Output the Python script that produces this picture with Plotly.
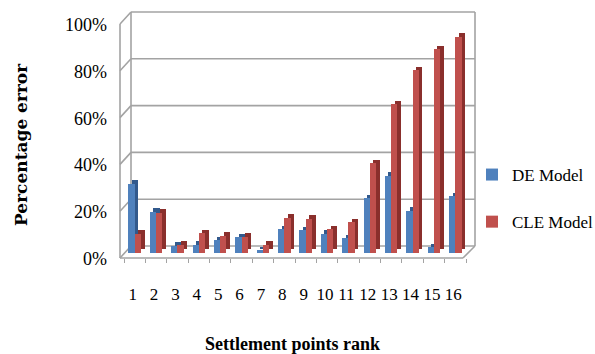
import plotly.graph_objects as go

# Settlement point ranks and percentage errors of the two models
ranks = [str(i) for i in range(1, 17)]
de_model = [29.5, 17.5, 3.0, 3.3, 5.4, 6.6, 1.0, 10.0, 9.5, 8.0, 6.1, 23.2, 32.8, 18.0, 2.3, 24.2]
cle_model = [8.0, 17.0, 3.3, 8.3, 7.3, 6.8, 3.3, 15.0, 14.5, 10.0, 13.0, 38.2, 63.5, 78.0, 87.0, 92.3]
y_ticks = [0, 20, 40, 60, 80, 100]
y_ticktext = ["0%", "20%", "40%", "60%", "80%", "100%"]

# plot area in pixels
W, H = 595, 354
PL, PR, PT, PB = 124, 466, 12, 258
YMIN, YMAX = -2.265, 102.86

def px(x):
    return (x - PL) / (PR - PL)

def py(y):
    return (PB - y) / (PB - PT)

def ypix(v, shift=0.0):
    return PB - (v - YMIN) / (YMAX - YMIN) * (PB - PT) + shift

# pseudo-3D bar geometry (category units / value units)
FACE = 0.295
DEPTH_X = 0.164
DEPTH_Y = 1.5

blue, blue_side = "#4f81bd", "#32598c"
red, red_side = "#c0504d", "#8a2f2c"

fig = go.Figure()
fig.add_trace(go.Bar(x=ranks, y=de_model, base=DEPTH_Y, width=FACE, offset=-FACE + DEPTH_X,
                     marker=dict(color=blue_side, line=dict(width=0)), showlegend=False,
                     hoverinfo="skip"))
fig.add_trace(go.Bar(x=ranks, y=de_model, width=FACE, offset=-FACE, name="DE Model",
                     legendgroup="de", marker=dict(color=blue, line=dict(width=0))))
fig.add_trace(go.Bar(x=ranks, y=cle_model, base=DEPTH_Y, width=FACE, offset=DEPTH_X,
                     marker=dict(color=red_side, line=dict(width=0)), showlegend=False,
                     hoverinfo="skip"))
fig.add_trace(go.Bar(x=ranks, y=cle_model, width=FACE, offset=0, name="CLE Model",
                     legendgroup="cle", marker=dict(color=red, line=dict(width=0))))

# chart frame: back wall, left wall and floor
GRAY = "#a3a3a3"
BACK_L, BACK_R, FRONT_L, FLOOR_R = 131, 475, 120, 463
back_dy = -6.7   # back wall sits above the bar baseline
front_dy = 5.3   # front plane sits below it
shapes = []

def seg(x0, y0, x1, y1):
    shapes.append(dict(type="line", xref="paper", yref="paper",
                       x0=px(x0), y0=py(y0), x1=px(x1), y1=py(y1),
                       line=dict(color=GRAY, width=1.6), layer="below"))

for v in y_ticks:
    yb = ypix(v, back_dy)
    yf = ypix(v, front_dy)
    seg(BACK_L, yb, BACK_R, yb)
    seg(FRONT_L, yf, BACK_L, yb)
seg(BACK_L, ypix(0, back_dy), BACK_L, ypix(100, back_dy))
seg(BACK_R, ypix(0, back_dy), BACK_R, ypix(100, back_dy))
seg(FRONT_L, ypix(0, front_dy), FRONT_L, ypix(100, front_dy))
seg(FRONT_L, ypix(0, front_dy), FLOOR_R, ypix(0, front_dy))
seg(FLOOR_R, ypix(0, front_dy), BACK_R, ypix(0, back_dy))

FONT = "Liberation Serif, Times New Roman, serif"
WIDE_SERIF = "DejaVu Serif, serif"
fig.update_layout(
    width=W, height=H,
    margin=dict(l=PL, r=W - PR, t=PT, b=H - PB, pad=0, autoexpand=False),
    paper_bgcolor="white", plot_bgcolor="rgba(0,0,0,0)",
    barmode="overlay", bargap=0,
    font=dict(family=FONT, size=18, color="black"),
    shapes=shapes,
    xaxis=dict(type="category", range=[-0.5, 15.5], showgrid=False, zeroline=False,
               showline=False, tickson="boundaries", ticks="outside", ticklen=4,
               tickcolor=GRAY, tickwidth=1.2, tickangle=0, automargin=False,
               tickfont=dict(size=17, family=FONT, color="black"),
               ticklabelstandoff=24, ticklabelshift=-2),
    yaxis=dict(range=[YMIN, YMAX], tickvals=y_ticks, ticktext=y_ticktext,
               showgrid=False, zeroline=False, showline=False, ticks="", automargin=False,
               tickfont=dict(size=18, family=FONT, color="black"),
               ticklabelstandoff=16, ticklabelshift=6),
    legend=dict(x=px(472), y=py(198.5), xanchor="left", yanchor="middle",
                font=dict(size=17, family=FONT, color="black"), tracegroupgap=22,
                itemwidth=30, bgcolor="rgba(0,0,0,0)"),
    annotations=[
        dict(text="<b>Percentage error</b>", xref="paper", yref="paper",
             x=px(21), y=py(145), textangle=-90, showarrow=False,
             font=dict(size=17, family=WIDE_SERIF, color="black"),
             xanchor="center", yanchor="middle"),
        dict(text="<b>Settlement points rank</b>", xref="paper", yref="paper",
             x=px(292), y=py(344), showarrow=False,
             font=dict(size=18, family=FONT, color="black"),
             xanchor="center", yanchor="middle"),
    ],
)

fig.write_html("out.html")
